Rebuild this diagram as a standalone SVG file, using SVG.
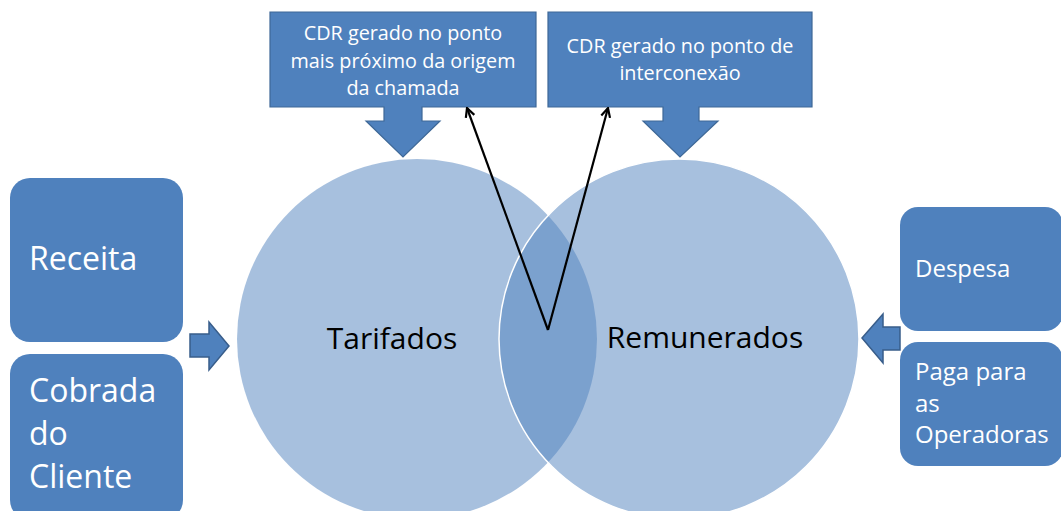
<svg xmlns="http://www.w3.org/2000/svg" width="1061" height="511" viewBox="0 0 1061 511">
<defs>
<style>
.box{fill:#4F81BD;}
.call{fill:#4F81BD;stroke:#3E6897;stroke-width:1.2;}
.blk{fill:#4F81BD;stroke:#385D8A;stroke-width:1.5;}
.circ{fill:#4F81BD;fill-opacity:0.5;}
.wt{fill:#FFFFFF;font-family:"Open Sans","Noto Sans",sans-serif;}
.bk{fill:#000000;font-family:"Open Sans","Noto Sans",sans-serif;}
.con{fill:none;stroke:#000000;stroke-width:2.2;}
</style>
<marker id="open" viewBox="0 0 12 12" refX="11" refY="6" markerWidth="12" markerHeight="12" markerUnits="userSpaceOnUse" orient="auto">
<path d="M2,1.5 L11,6 L2,10.5" fill="none" stroke="#000" stroke-width="2.2"/>
</marker>
</defs>
<rect width="1061" height="511" fill="#FFFFFF"/>
<g id="callout-origem">
<path class="call" d="M270,12 H536 V107 H422 V121 H440 L403,157 L366,121 H384 V107 H270 Z"/>
<text class="wt" font-size="19.8" text-anchor="middle"><tspan x="403" y="40">CDR gerado no ponto</tspan><tspan x="403" y="68">mais próximo da origem</tspan><tspan x="403" y="95">da chamada</tspan></text>
</g>
<g id="callout-interconexao">
<path class="call" d="M548,12 H812 V107 H699 V121 H718 L680,157 L643,121 H663 V107 H548 Z"/>
<text class="wt" font-size="19.8" text-anchor="middle"><tspan x="680" y="53">CDR gerado no ponto de</tspan><tspan x="680" y="80">interconexão</tspan></text>
</g>
<g id="receita">
<rect class="box" x="10" y="178" width="173" height="164" rx="20"/>
<text class="wt" font-size="32" x="29" y="270">Receita</text>
</g>
<g id="cobrada">
<rect class="box" x="10" y="354" width="173" height="166" rx="20"/>
<text class="wt" font-size="32"><tspan x="29" y="402">Cobrada</tspan><tspan x="29" y="445">do</tspan><tspan x="29" y="488">Cliente</tspan></text>
</g>
<g id="despesa">
<rect class="box" x="900" y="207" width="163" height="124" rx="18"/>
<text class="wt" font-size="24" x="915" y="277">Despesa</text>
</g>
<g id="paga">
<rect class="box" x="900" y="342" width="163" height="124" rx="18"/>
<text class="wt" font-size="24"><tspan x="915" y="380">Paga para</tspan><tspan x="915" y="412">as</tspan><tspan x="915" y="443">Operadoras</tspan></text>
</g>
<g id="arrow-left">
<path class="blk" d="M190,334 H209 V322 L229,346 L209,370 V357 H190 Z"/>
</g>
<g id="arrow-right">
<path class="blk" d="M900,327 H883 V314 L862,338 L883,363 V350 H900 Z"/>
</g>
<g id="tarifados">
<circle class="circ" cx="417" cy="339" r="180"/>
<text class="bk" font-size="30" x="392" y="349" text-anchor="middle">Tarifados</text>
</g>
<g id="remunerados">
<circle class="circ" cx="679" cy="339" r="180" stroke="#FFFFFF" stroke-width="1.5"/>
<text class="bk" font-size="30" x="705" y="348" text-anchor="middle">Remunerados</text>
</g>
<g id="connectors">
<line class="con" x1="548" y1="330" x2="467" y2="108" marker-end="url(#open)"/>
<line class="con" x1="548" y1="330" x2="608" y2="108" marker-end="url(#open)"/>
</g>
</svg>
